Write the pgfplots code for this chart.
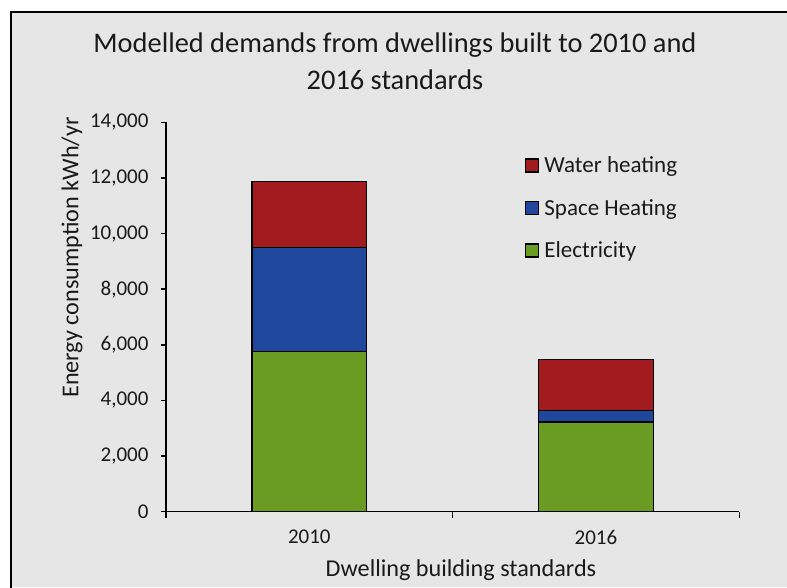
\documentclass[border=0pt]{standalone}
\usepackage{pgfplots}
\pgfplotsset{compat=1.18}
\usepackage{fontspec}
\setmainfont{Carlito}
\definecolor{bg}{HTML}{E6E6E6}
\definecolor{cwater}{HTML}{A21C1F}
\definecolor{cspace}{HTML}{1F479C}
\definecolor{celec}{HTML}{6A9C24}
\definecolor{txt}{HTML}{1A1A1A}
\begin{document}
\begin{tikzpicture}[x=1pt,y=1pt]
\useasboundingbox (0,0) rectangle (787,587);
\fill[white] (0,0) rectangle (787,587);
\fill[bg] (11,0) rectangle (787,575);
\draw[line width=1.5pt] (11,-2) -- (11,575) -- (789,575);
\begin{axis}[
  at={(166pt,75.3pt)}, anchor=south west,
  scale only axis, width=573.3pt, height=389.4pt,
  ybar stacked, bar width=114.7pt,
  xmin=0.5, xmax=2.5, ymin=0, ymax=14000,
  axis x line=bottom, axis y line=left,
  axis line style={-, line width=1.4pt, black},
  xtick={1,2}, xticklabels={2010,2016},
  major x tick style={draw=none},
  extra x ticks={0.5,1.5,2.5}, extra x tick labels={},
  extra x tick style={major tick length=6pt, tick align=outside, major x tick style={draw=black, line width=1.4pt}},
  ytick distance=2000,
  tick align=outside, major tick length=5pt,
  tick style={line width=1.4pt, black},
  /pgf/number format/assume math mode=true,
  /pgf/number format/1000 sep={,},
  scaled y ticks=false,
  ticklabel style={font=\fontsize{21}{25}\selectfont, text=txt},
  yticklabel style={xshift=-9pt},
  xticklabel style={yshift=-10pt},
  legend style={at={(rel axis cs:0.6255,0.917)}, anchor=north west, draw=none, fill=none,
    font=\fontsize{23}{27}\selectfont, text=txt, row sep=21pt, inner sep=0pt},
  legend cell align=left,
  reverse legend,
  legend image code/.code={\path[draw=none,fill=none] (0pt,0pt) -- (17pt,0pt);\draw[#1,draw=black,line width=1.2pt] (0pt,-6.5pt) rectangle (13pt,6.5pt);},
  every axis plot/.append style={draw=black, line width=1.3pt},
  clip=false,
]
\addplot[fill=celec] coordinates {(1,5770) (2,3230)};
\addlegendentry{Electricity}
\addplot[fill=cspace] coordinates {(1,3725) (2,400)};
\addlegendentry{Space Heating}
\addplot[fill=cwater] coordinates {(1,2370) (2,1830)};
\addlegendentry{Water heating}
\end{axis}
\node[font=\fontsize{28.4}{34}\selectfont, text=txt] at (395,542) {Modelled demands from dwellings built to 2010 and};
\node[font=\fontsize{28.4}{34}\selectfont, text=txt] at (395,507) {2016 standards};
\node[font=\fontsize{24.2}{29}\selectfont, text=txt] at (461,17) {Dwelling building standards};
\node[font=\fontsize{24.2}{29}\selectfont, text=txt, rotate=90] at (72,329.5) {Energy consumption kWh/yr};
\end{tikzpicture}
\end{document}
